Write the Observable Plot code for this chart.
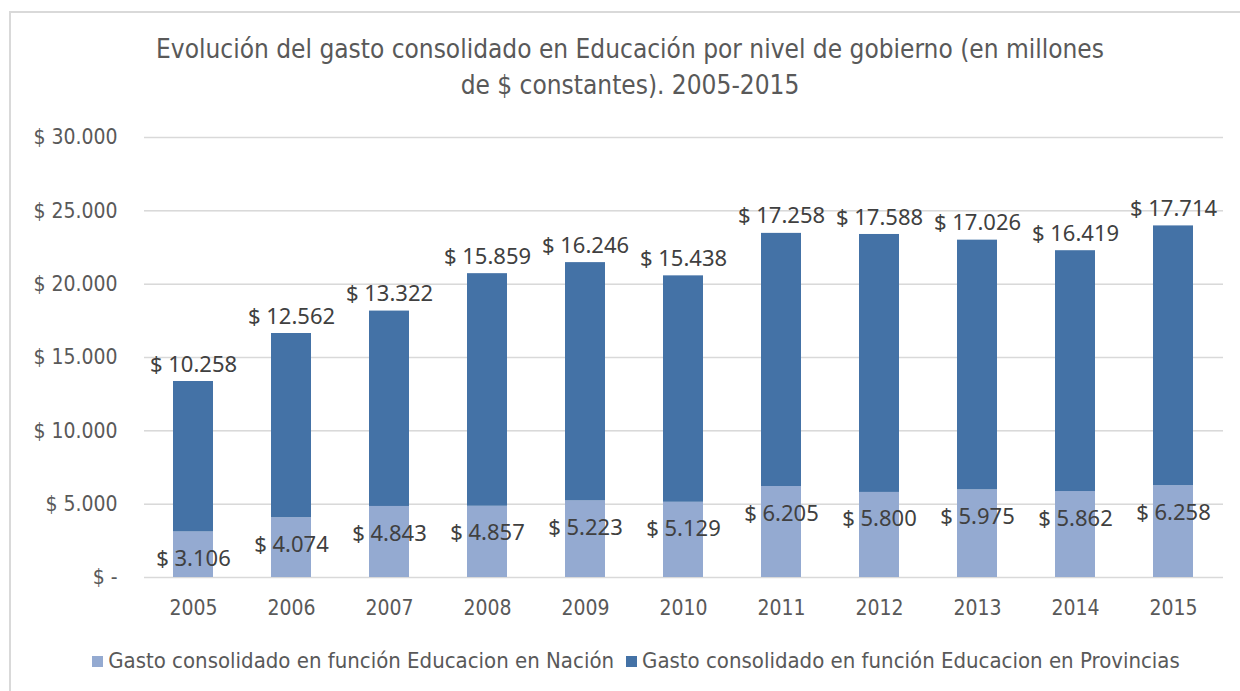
<!DOCTYPE html>
<html>
<head>
<meta charset="utf-8">
<script src="https://cdn.jsdelivr.net/npm/d3@7"></script>
<script src="https://cdn.jsdelivr.net/npm/@observablehq/plot@0.6"></script>
<style>
  html, body { margin: 0; padding: 0; background: #fff; width: 1240px; height: 691px; overflow: hidden; }
  #frame { position: absolute; left: 9px; top: 11px; width: 1300px; height: 800px; border-left: 2px solid #d9d9d9; border-top: 2px solid #d9d9d9; }
  #title { position: absolute; left: 0; width: 1260px; top: 31px; text-align: center; font-family: "Liberation Sans Narrow", "DejaVu Sans Condensed", sans-serif; font-size: 26px; line-height: 36px; color: #595959; }
  #chart { position: absolute; left: 0; top: 110px; }
  #legend { position: absolute; left: 0; width: 1272px; top: 648px; text-align: center; font-family: "Liberation Sans Narrow", "DejaVu Sans Condensed", sans-serif; font-size: 22px; color: #595959; white-space: nowrap; }
  .sw { display: inline-block; width: 11px; height: 11px; margin-right: 5px; vertical-align: 1px; }
  .item { display: inline-block; margin: 0 6px; }
</style>
</head>
<body>
<div id="frame"></div>
<div id="title">Evolución del gasto consolidado en Educación por nivel de gobierno (en millones<br>de $ constantes). 2005-2015</div>
<div id="chart"></div>
<div id="legend"></div>
<script>
const years = ["2005","2006","2007","2008","2009","2010","2011","2012","2013","2014","2015"];
const nacion = [3106, 4074, 4843, 4857, 5223, 5129, 6205, 5800, 5975, 5862, 6258];
const provincias = [10258, 12562, 13322, 15859, 16246, 15438, 17258, 17588, 17026, 16419, 17714];
const seriesNames = ["Gasto consolidado en función Educacion en Nación", "Gasto consolidado en función Educacion en Provincias"];
const seriesColors = ["#94aad1", "#4472a6"];
const yTicks = [0, 5000, 10000, 15000, 20000, 25000, 30000];

const loc = d3.formatLocale({decimal: ",", thousands: ".", grouping: [3], currency: ["$", ""]});
const fmt = loc.format(",d");
const money = v => v === 0 ? "$ -" : "$ " + fmt(v);

const rows = [];
years.forEach((yr, i) => {
  rows.push({year: yr, series: seriesNames[0], value: nacion[i]});
  rows.push({year: yr, series: seriesNames[1], value: provincias[i]});
});
const totals = years.map((yr, i) => ({year: yr, nac: nacion[i], prov: provincias[i], total: nacion[i] + provincias[i]}));

const labelFont = "'Noto Sans', 'Open Sans', sans-serif";
const axisFont = "'Liberation Sans Narrow', 'DejaVu Sans Condensed', sans-serif";

const chart = Plot.plot({
  width: 1240,
  height: 527,
  marginTop: 27,
  marginBottom: 60,
  marginLeft: 144,
  marginRight: 17,
  style: {fontFamily: axisFont, fontSize: "21px", color: "#595959", background: "transparent"},
  x: {domain: years, paddingInner: 0.59, paddingOuter: 0.295, label: null, tickSize: 0, tickPadding: 23},
  y: {domain: [0, 30000], ticks: yTicks, tickFormat: money, label: null, tickSize: 0, tickPadding: 27, grid: true},
  color: {domain: seriesNames, range: seriesColors},
  marks: [
    Plot.gridY(yTicks, {stroke: "#d9d9d9", strokeOpacity: 1, strokeWidth: 1.5}),
    Plot.barY(rows, {x: "year", y: "value", fill: "series", order: seriesNames}),
    Plot.text(totals, {x: "year", y: "nac", text: d => money(d.nac), dy: 27, fill: "#404040", fontSize: 22, fontFamily: labelFont}),
    Plot.text(totals, {x: "year", y: "total", text: d => money(d.prov), dy: -17, fill: "#404040", fontSize: 22, fontFamily: labelFont}),
    Plot.axisX({tickSize: 0, tickPadding: 23, fill: "#595959"}),
    Plot.axisY({ticks: yTicks, tickFormat: money, tickSize: 0, tickPadding: 27, fill: "#595959"})
  ]
});
document.getElementById("chart").appendChild(chart);

const leg = document.getElementById("legend");
seriesNames.forEach((n, i) => {
  const s = document.createElement("span");
  s.className = "item";
  s.innerHTML = `<span class="sw" style="background:${seriesColors[i]}"></span>${n}`;
  leg.appendChild(s);
});
</script>
</body>
</html>
